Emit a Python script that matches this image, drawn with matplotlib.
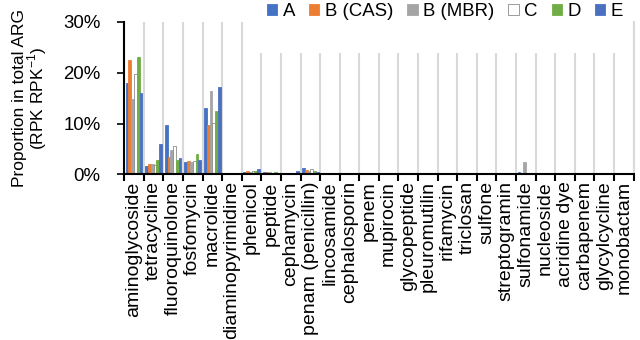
import matplotlib
matplotlib.use('Agg')
import matplotlib.pyplot as plt
import numpy as np
from matplotlib.patches import Rectangle

# 薬剤クラス
categories = ["aminoglycoside", "tetracycline", "fluoroquinolone", "fosfomycin", "macrolide",
              "diaminopyrimidine", "phenicol", "peptide", "cephamycin", "penam (penicillin)",
              "lincosamide", "cephalosporin", "penem", "mupirocin", "glycopeptide",
              "pleuromutilin", "rifamycin", "triclosan", "sulfone", "streptogramin",
              "sulfonamide", "nucleoside", "acridine dye", "carbapenem", "glycylcycline",
              "monobactam"]

series_names = ["A", "B (CAS)", "B (MBR)", "C", "D", "E"]

# 値 (%)
vals_A = [17.9, 1.6, 9.8, 2.5, 13.1, 0.1, 0.4, 0.5, 0.05, 1.2, 0.1, 0.05, 0.02, 0.05, 0.05,
          0.03, 0.02, 0.02, 0.02, 0.02, 0.4, 0.02, 0.02, 0.02, 0.02, 0.02]
vals_B_cas = [22.4, 2.0, 3.4, 2.55, 9.8, 0.05, 0.7, 0.5, 0.05, 0.85, 0.05, 0.03, 0.02, 0.03, 0.05,
              0.02, 0.02, 0.02, 0.02, 0.02, 0.05, 0.02, 0.02, 0.02, 0.02, 0.02]
vals_B_mbr = [14.8, 2.0, 4.8, 2.5, 16.3, 0.1, 0.5, 0.4, 0.15, 0.7, 0.2, 0.1, 0.05, 0.15, 0.15,
              0.05, 0.05, 0.05, 0.05, 0.02, 2.4, 0.02, 0.02, 0.02, 0.02, 0.02]
vals_C = [19.7, 1.8, 5.6, 2.7, 10.2, 0.05, 0.6, 0.2, 0.05, 1.0, 0.1, 0.05, 0.02, 0.05, 0.05,
          0.03, 0.02, 0.02, 0.02, 0.02, 0.1, 0.02, 0.02, 0.02, 0.02, 0.02]
vals_D = [23.0, 2.75, 2.8, 4.1, 12.4, 0.2, 0.6, 0.5, 0.1, 0.6, 0.1, 0.05, 0.02, 0.05, 0.05,
          0.03, 0.02, 0.02, 0.02, 0.02, 0.2, 0.02, 0.02, 0.02, 0.02, 0.02]
vals_E = [16.0, 5.9, 3.3, 2.75, 17.2, 0.2, 1.0, 0.1, 0.7, 0.5, 0.2, 0.05, 0.02, 0.05, 0.05,
          0.03, 0.02, 0.02, 0.02, 0.02, 0.05, 0.02, 0.02, 0.02, 0.02, 0.02]

y_ticks = [0, 10, 20, 30]


def main():
    plt.rcParams['font.family'] = ['Liberation Sans', 'DejaVu Sans']
    plt.rcParams['font.size'] = 13.4

    series = [vals_A, vals_B_cas, vals_B_mbr, vals_C, vals_D, vals_E]
    colors = ["#4472C4", "#ED7D31", "#A5A5A5", "#FFFFFF", "#70AD47", "#4A71C0"]
    edges = ["#4472C4", "#ED7D31", "#A5A5A5", "#8C8C8C", "#70AD47", "#4A71C0"]

    fig = plt.figure(figsize=(6.4, 3.4), dpi=100)
    ax = fig.add_axes([0.194, 0.487, 0.796, 0.449])

    x = np.arange(len(categories))
    n = len(series)
    group_w = 0.85
    bw = group_w / n
    for i, (vals, name) in enumerate(zip(series, series_names)):
        offs = -group_w / 2 + bw * (i + 0.5)
        ax.bar(x + offs, vals, width=bw, color=colors[i], edgecolor=edges[i],
               linewidth=0.6, label=name, zorder=2)

    ax.set_xlim(-0.5, len(categories) - 0.5)
    ax.set_ylim(0, 30)

    # 区切り線 (カテゴリ境界)
    ax.set_xticks(np.arange(-0.5, len(categories), 1.0))
    ax.set_xticklabels([])
    ax.set_xticks(x, minor=True)
    ax.set_xticklabels(categories, minor=True, rotation=90, fontsize=14)
    ax.tick_params(axis='x', which='major', length=5, width=1.5, direction='out', color='black')
    ax.tick_params(axis='x', which='minor', length=0, pad=5)
    ax.set_axisbelow(True)
    ax.grid(axis='x', which='major', color='#d9d9d9', linewidth=1.5, zorder=0.5)

    ax.set_yticks(y_ticks)
    ax.set_yticklabels([f"{v}%" for v in y_ticks])
    ax.tick_params(axis='y', length=5, width=1.2, pad=12)

    ax.spines["top"].set_visible(False)
    ax.spines["right"].set_color('#d9d9d9')
    ax.spines["right"].set_linewidth(1.5)
    ax.spines["left"].set_linewidth(1.5)
    ax.spines["bottom"].set_linewidth(1.5)
    ax.spines["bottom"].set_zorder(3)

    ax.set_ylabel("Proportion in total ARG\n(RPK RPK$^{\\mathregular{-1}}$)", labelpad=10,
                  linespacing=0.95, fontsize=12.5)

    # 凡例の背景 (グリッド線を隠す)
    ax.add_patch(Rectangle((0.245, 0.795), 0.735, 0.21, transform=ax.transAxes,
                           facecolor='white', edgecolor='none', zorder=1, clip_on=False))

    fig.legend(loc='center right', bbox_to_anchor=(0.985, 0.965), ncol=6, frameon=False,
               handlelength=0.55, handleheight=0.55, handletextpad=0.3,
               columnspacing=0.75, borderaxespad=0)

    fig.savefig("out.png", dpi=100)


if __name__ == "__main__":
    main()
